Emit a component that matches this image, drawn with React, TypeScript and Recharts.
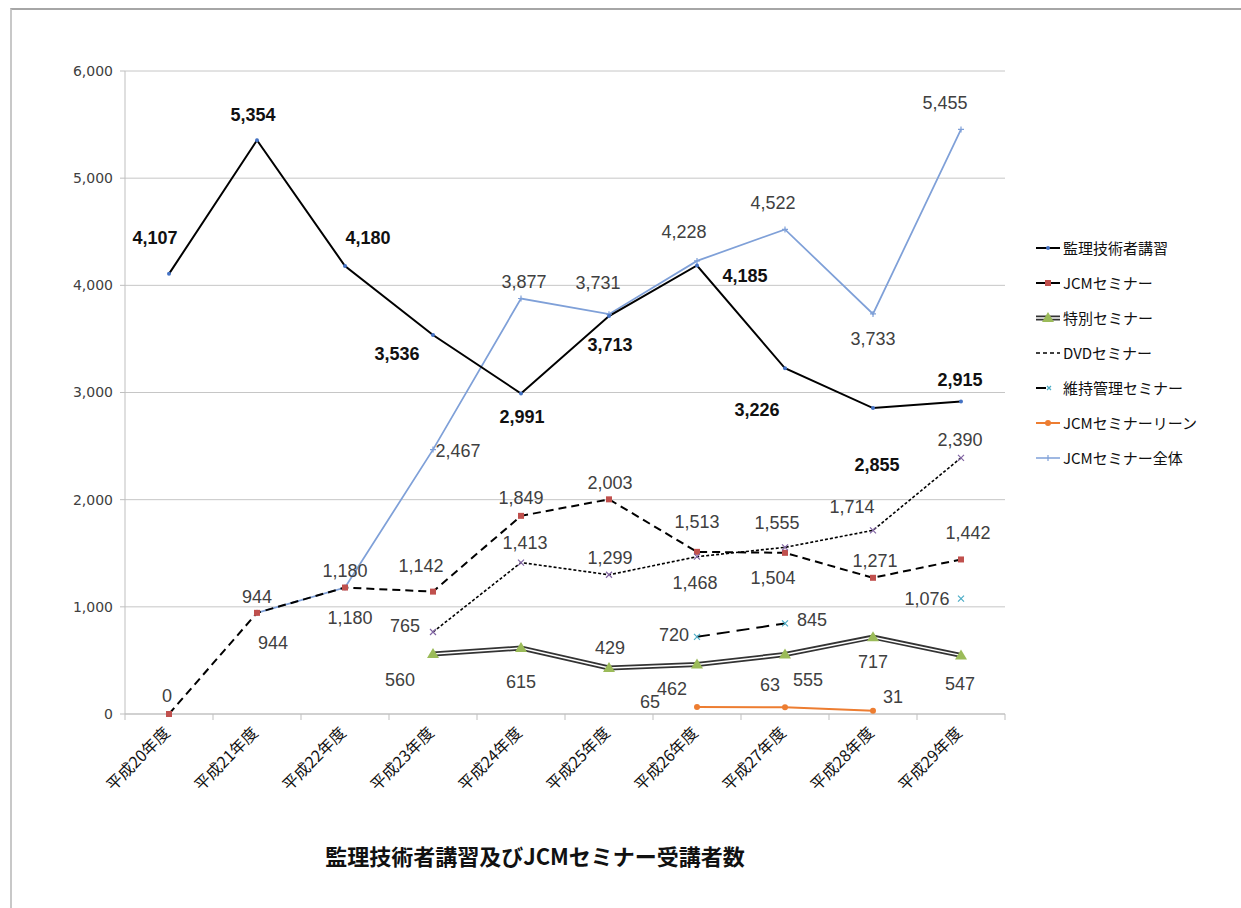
import React from "react";
import { LineChart, Line, XAxis, YAxis, CartesianGrid, LabelList } from "recharts";

const years = ["平成20年度", "平成21年度", "平成22年度", "平成23年度", "平成24年度", "平成25年度", "平成26年度", "平成27年度", "平成28年度", "平成29年度"];
const kanri = [4107, 5354, 4180, 3536, 2991, 3713, 4185, 3226, 2855, 2915];
const jcm = [0, 944, 1180, 1142, 1849, 2003, 1513, 1504, 1271, 1442];
const tokubetsu = [null, null, null, 560, 615, 429, 462, 555, 717, 547];
const dvd = [null, null, null, 765, 1413, 1299, 1468, 1555, 1714, 2390];
const iji = [null, null, null, null, null, null, 720, 845, null, 1076];
const lean = [null, null, null, null, null, null, 65, 63, 31, null];
const zentai = [null, 944, 1180, 2467, 3877, 3731, 4228, 4522, 3733, 5455];
const yTicks = [0, 1000, 2000, 3000, 4000, 5000, 6000];
const title = "監理技術者講習及びJCMセミナー受講者数";

// label offsets (dx, dy) from each point, roughly where Excel put them
const kanriOff = [[-14, -36], [-4, -25], [23, -28], [-36, 19], [1, 24], [1, 29], [48, 10], [-28, 42], [4, 57], [-1, -22]];
const jcmOff = [[-2, -18], [0, -16], [0, -17], [-12, -26], [0, -18], [1, -16], [0, -30], [-12, 25], [2, -17], [7, -26]];
const tokuOff = [[0, 0], [0, 0], [0, 0], [-33, 26], [0, 34], [1, -20], [-25, 25], [23, 25], [0, 25], [-1, 29]];
const dvdOff = [[0, 0], [0, 0], [0, 0], [-28, -6], [4, -20], [1, -17], [-2, 26], [-8, -24], [-21, -23], [-1, -18]];
const ijiOff = [[0, 0], [0, 0], [0, 0], [0, 0], [0, 0], [0, 0], [-23, -2], [27, -3], [0, 0], [-34, 0]];
const leanOff = [[0, 0], [0, 0], [0, 0], [0, 0], [0, 0], [0, 0], [-47, -5], [-15, -22], [20, -14], [0, 0]];
const zentaiOff = [[0, 0], [16, 30], [5, 30], [25, 1], [3, -17], [-11, -31], [-13, -29], [-12, -26], [0, 25], [-16, -26]];

const data = years.map((year, i) => ({
  year,
  kanri: kanri[i],
  jcm: jcm[i],
  tokubetsu: tokubetsu[i],
  dvd: dvd[i],
  iji: iji[i],
  lean: lean[i],
  zentai: zentai[i],
}));

const BAND = 88;
const fmt = (v: number) => v.toLocaleString("en-US");

const makeLabel = (off: number[][], bold = false) => (p: any) => {
  const { x, y, value, index } = p;
  if (value == null || x == null || y == null) return null;
  const [dx, dy] = off[index] || [0, -16];
  return (
    <text
      key={index}
      x={x + dx}
      y={y + dy}
      textAnchor="middle"
      dominantBaseline="central"
      fontFamily="Liberation Sans, Arial, sans-serif"
      fontSize={18}
      fontWeight={bold ? 700 : 400}
      fill={bold ? "#111" : "#404040"}
    >
      {fmt(value)}
    </text>
  );
};

const dotCircle = (r: number, fill: string) => (p: any) => {
  if (p.value == null || p.cy == null) return <g key={p.index} />;
  return <circle key={p.index} cx={p.cx} cy={p.cy} r={r} fill={fill} />;
};
const dotSquare = (p: any) => {
  if (p.value == null || p.cy == null) return <g key={p.index} />;
  return <rect key={p.index} x={p.cx - 3} y={p.cy - 3} width={6} height={6} fill="#c0504d" />;
};
const dotTriangle = (p: any) => {
  if (p.value == null || p.cy == null) return <g key={p.index} />;
  const { cx, cy } = p;
  return <path key={p.index} d={`M${cx},${cy - 6} L${cx + 6},${cy + 4} L${cx - 6},${cy + 4} Z`} fill="#9bbb59" />;
};
const dotCross = (color: string) => (p: any) => {
  if (p.value == null || p.cy == null) return <g key={p.index} />;
  const { cx, cy } = p;
  return <path key={p.index} d={`M${cx - 3},${cy - 3} L${cx + 3},${cy + 3} M${cx - 3},${cy + 3} L${cx + 3},${cy - 3}`} stroke={color} strokeWidth={1.2} />;
};
const dotPlus = (p: any) => {
  if (p.value == null || p.cy == null) return <g key={p.index} />;
  const { cx, cy } = p;
  return <path key={p.index} d={`M${cx - 3},${cy} L${cx + 3},${cy} M${cx},${cy - 3} L${cx},${cy + 3}`} stroke="#7fa0d8" strokeWidth={1.2} />;
};

const XTick = (p: any) => {
  const { x, y, payload, index } = p;
  const tx = x + 2;
  const ty = y + 20;
  return (
    <g>
      <line x1={x - BAND / 2} x2={x - BAND / 2} y1={y} y2={y + 6} stroke="#bfbfbf" />
      {index === years.length - 1 && <line x1={x + BAND / 2} x2={x + BAND / 2} y1={y} y2={y + 6} stroke="#bfbfbf" />}
      <text
        x={tx}
        y={ty}
        transform={`rotate(-45, ${tx}, ${ty})`}
        textAnchor="end"
        fontFamily="Noto Sans CJK JP, sans-serif"
        fontSize={16}
        fill="#111"
      >
        {payload.value}
      </text>
    </g>
  );
};

const legendItems = [
  { name: "監理技術者講習", kind: "kanri" },
  { name: "JCMセミナー", kind: "jcm" },
  { name: "特別セミナー", kind: "toku" },
  { name: "DVDセミナー", kind: "dvd" },
  { name: "維持管理セミナー", kind: "iji" },
  { name: "JCMセミナーリーン", kind: "lean" },
  { name: "JCMセミナー全体", kind: "zentai" },
];

const LegendIcon = ({ kind }: { kind: string }) => {
  const w = 24;
  const c = 10;
  switch (kind) {
    case "kanri":
      return (<svg width={w} height={20}><line x1={0} x2={w} y1={c} y2={c} stroke="#000" strokeWidth={2} /><circle cx={12} cy={c} r={2} fill="#4472c4" /></svg>);
    case "jcm":
      return (<svg width={w} height={20}><line x1={0} x2={w} y1={c} y2={c} stroke="#000" strokeWidth={2} /><rect x={9} y={c - 3} width={6} height={6} fill="#c0504d" /></svg>);
    case "toku":
      return (<svg width={w} height={20}><line x1={0} x2={w} y1={c} y2={c} stroke="#333" strokeWidth={5} /><line x1={0} x2={w} y1={c} y2={c} stroke="#fff" strokeWidth={1.5} /><path d={`M12,${c - 6} L18,${c + 4} L6,${c + 4} Z`} fill="#9bbb59" /></svg>);
    case "dvd":
      return (<svg width={w} height={20}><line x1={0} x2={w} y1={c} y2={c} stroke="#000" strokeWidth={1.5} strokeDasharray="4 3" /></svg>);
    case "iji":
      return (<svg width={w} height={20}><line x1={0} x2={10} y1={c} y2={c} stroke="#000" strokeWidth={2} /><path d={`M11,${c - 2} L15,${c + 2} M11,${c + 2} L15,${c - 2}`} stroke="#4bacc6" strokeWidth={1.2} /></svg>);
    case "lean":
      return (<svg width={w} height={20}><line x1={0} x2={w} y1={c} y2={c} stroke="#ed7d31" strokeWidth={2} /><circle cx={12} cy={c} r={3} fill="#ed7d31" /></svg>);
    default:
      return (<svg width={w} height={20}><line x1={0} x2={w} y1={c} y2={c} stroke="#7fa0d8" strokeWidth={1.5} /><line x1={12} x2={12} y1={c - 3} y2={c + 3} stroke="#7fa0d8" strokeWidth={1.2} /></svg>);
  }
};

export default function App() {
  return (
    <div style={{ position: "absolute", left: 0, top: 0, width: 1241, height: 908, background: "#fff", overflow: "hidden" }}>
      <div style={{ position: "absolute", left: 10, top: 8, width: 1240, height: 910, borderTop: "2px solid #a6a6a6", borderLeft: "2px solid #c8c8c8" }} />
      <LineChart width={1241} height={908} data={data} margin={{ top: 71, right: 236, left: 65, bottom: 94 }}>
        <CartesianGrid vertical={false} stroke="#c6c6c6" />
        <XAxis dataKey="year" interval={0} padding={{ left: BAND / 2, right: BAND / 2 }} axisLine={{ stroke: "#bfbfbf" }} tickLine={false} tickSize={0} tickMargin={0} height={100} tick={<XTick />} />
        <YAxis
          domain={[0, 6000]}
          ticks={yTicks}
          width={60}
          axisLine={{ stroke: "#bfbfbf" }}
          tickLine={{ stroke: "#bfbfbf" }}
          tickSize={5}
          tickMargin={7}
          tickFormatter={(v: number) => fmt(v)}
          tick={{ fontFamily: "DejaVu Sans, sans-serif", fontSize: 14, fill: "#404040" }}
        />
        <Line dataKey="zentai" name="JCMセミナー全体" stroke="#7fa0d8" strokeWidth={1.75} dot={dotPlus} isAnimationActive={false}>
          <LabelList dataKey="zentai" content={makeLabel(zentaiOff)} />
        </Line>
        <Line dataKey="kanri" name="監理技術者講習" stroke="#000" strokeWidth={2} dot={dotCircle(2, "#4472c4")} isAnimationActive={false}>
          <LabelList dataKey="kanri" content={makeLabel(kanriOff, true)} />
        </Line>
        <Line dataKey="jcm" name="JCMセミナー" stroke="#000" strokeWidth={2} strokeDasharray="8 5" dot={dotSquare} isAnimationActive={false}>
          <LabelList dataKey="jcm" content={makeLabel(jcmOff)} />
        </Line>
        <Line dataKey="dvd" name="DVDセミナー" stroke="#000" strokeWidth={1.6} strokeDasharray="3 2" dot={dotCross("#8064a2")} isAnimationActive={false}>
          <LabelList dataKey="dvd" content={makeLabel(dvdOff)} />
        </Line>
        <Line dataKey="iji" name="維持管理セミナー" stroke="#000" strokeWidth={2} strokeDasharray="13 7" dot={dotCross("#4bacc6")} isAnimationActive={false}>
          <LabelList dataKey="iji" content={makeLabel(ijiOff)} />
        </Line>
        <Line dataKey="tokubetsu" name="特別セミナー" stroke="#333" strokeWidth={5} dot={false} isAnimationActive={false}>
          <LabelList dataKey="tokubetsu" content={makeLabel(tokuOff)} />
        </Line>
        <Line dataKey="tokubetsu" name="特別セミナー_inner" legendType="none" stroke="#fff" strokeWidth={1.5} dot={dotTriangle} isAnimationActive={false} />
        <Line dataKey="lean" name="JCMセミナーリーン" stroke="#ed7d31" strokeWidth={2} dot={dotCircle(3, "#ed7d31")} isAnimationActive={false}>
          <LabelList dataKey="lean" content={makeLabel(leanOff)} />
        </Line>
      </LineChart>
      <div style={{ position: "absolute", left: 1036, top: 230, fontFamily: "Noto Sans CJK JP, sans-serif", fontSize: 15, color: "#111" }}>
        {legendItems.map((it) => (
          <div key={it.name} style={{ display: "flex", alignItems: "center", height: 35 }}>
            <LegendIcon kind={it.kind} />
            <span style={{ marginLeft: 3 }}>{it.name}</span>
          </div>
        ))}
      </div>
      <div style={{ position: "absolute", left: 0, width: 1070, top: 839, textAlign: "center", fontFamily: "Noto Sans CJK JP, sans-serif", fontWeight: 700, fontSize: 22, color: "#111" }}>
        {title}
      </div>
    </div>
  );
}
